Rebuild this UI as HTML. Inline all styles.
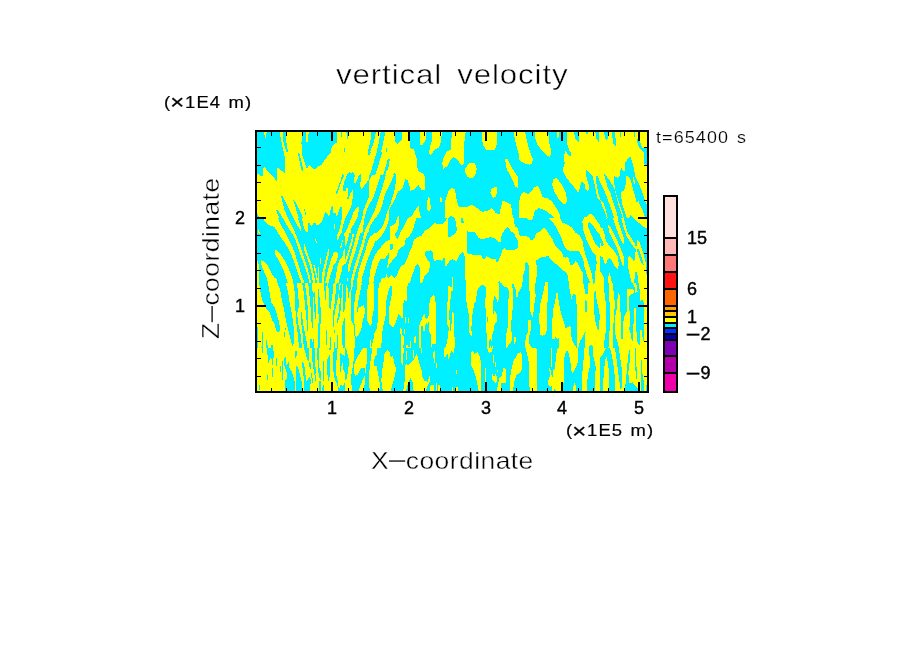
<!DOCTYPE html>
<html lang="en"><head><meta charset="utf-8"><title>vertical velocity</title>
<style>
html,body{margin:0;padding:0;background:#fff;}
body{width:904px;height:654px;overflow:hidden;position:relative;font-family:"Liberation Sans",sans-serif;color:#000;}
svg{position:absolute;left:0;top:0;display:block}
.t{position:absolute;white-space:pre;line-height:1;color:#000;}
.thin{-webkit-text-stroke:0.55px #fff;}
.big{font-size:26px;}
.sm{font-size:15px;}
.tick{font-size:15px;-webkit-text-stroke:0.2px #000;}
</style></head><body>

<svg width="904" height="654" viewBox="0 0 904 654" shape-rendering="crispEdges">
<rect x="0" y="0" width="904" height="654" fill="#fff"/>
<defs><clipPath id="pc"><rect x="256" y="131" width="392" height="261"/></clipPath></defs>
<g clip-path="url(#pc)">
<rect x="256" y="131" width="392" height="261" fill="#ffff00"/>
<svg x="255" y="130" width="132" height="88" viewBox="0 0 904 603" preserveAspectRatio="none">
<rect x="0" y="0" width="904" height="603" fill="#ffff00"/>
<polygon fill="#00f0ff" points="0,0 60,0 70,65 82,0 165,0 185,100 205,190 205,295 150,255 150,350 60,250 52,312 38,315 0,285"/>
<polygon fill="#00f0ff" points="188,0 212,0 216,90 226,155 214,150 196,90"/>
<polygon fill="#00f0ff" points="325,0 345,0 352,85 360,85 370,0 560,0 560,85 525,115 520,160 470,215 465,240 440,245 405,272 370,240 355,265 345,235 325,180 318,90"/>
<polygon fill="#00f0ff" points="293,158 305,165 332,270 328,287 316,268"/>
<polygon fill="#00f0ff" points="590,0 600,0 598,50 592,50"/>
<polygon fill="#00f0ff" points="625,0 640,0 640,60 630,65"/>
<polygon fill="#00f0ff" points="608,120 616,120 616,150 608,150"/>
<polygon fill="#00f0ff" points="800,0 830,0 815,80 782,170 772,150 790,80"/>
<polygon fill="#00f0ff" points="863,0 895,0 875,100 850,200 822,305 800,400 770,400 798,305 820,200 845,100"/>
<polygon fill="#00f0ff" points="904,110 877,231 849,305 840,330 880,330 904,250"/>
<polygon fill="#00f0ff" points="178,452 190,455 262,603 225,603 200,540"/>
<polygon fill="#00f0ff" points="145,548 160,552 190,603 165,603"/>
<polygon fill="#00f0ff" points="0,560 40,603 0,603"/>
<polygon fill="#00f0ff" points="262,480 275,485 330,603 300,603"/>
<polygon fill="#00f0ff" points="336,540 342,540 350,585 344,585"/>
<polygon fill="#00f0ff" points="520,520 530,520 535,570 560,575 585,530 595,535 590,603 470,603 490,565 515,570"/>
<polygon fill="#00f0ff" points="600,300 608,302 565,440 558,438"/>
</svg>
<svg x="321" y="152" width="66" height="66" viewBox="0 0 654 654" preserveAspectRatio="none">
<rect x="0" y="0" width="654" height="654" fill="#ffff00"/>
<polygon fill="#00f0ff" points="0,0 100,0 60,50 30,90 0,135"/>
<polygon fill="#00f0ff" points="465,0 495,0 485,25 470,25"/>
<polygon fill="#00f0ff" points="555,0 610,0 590,60 560,160 525,260 490,330 455,420 420,500 372,600 375,525 345,580 330,654 258,654 262,620 285,580 300,520 300,470 318,385 310,380 290,410 275,465 262,470 265,360 250,355 240,380 215,385 228,330 230,275 250,235 280,200 300,215 315,200 328,215 330,305 345,300 380,225 395,220 385,340 400,365 470,270 495,200 525,90"/>
<polygon fill="#00f0ff" points="654,215 620,300 590,380 560,450 500,560 430,654 510,654 570,560 600,500 630,420 654,330"/>
<polygon fill="#00f0ff" points="630,654 654,654 654,590"/>
<polygon fill="#00f0ff" points="212,220 222,222 160,420 150,418"/>
<polygon fill="#00f0ff" points="20,654 40,595 55,600 75,635 100,600 112,540 120,545 125,600 150,610 185,545 205,545 200,654"/>
</svg>
<svg x="387" y="130" width="132" height="88" viewBox="0 0 904 603" preserveAspectRatio="none">
<rect x="0" y="0" width="904" height="603" fill="#00f0ff"/>
<polygon fill="#ffff00" points="0,0 55,0 55,75 70,95 100,65 105,0 160,0 160,125 185,135 205,200 210,280 245,295 262,320 258,410 240,415 215,375 185,410 160,415 150,350 130,340 105,410 75,420 40,520 20,530 15,603 0,603"/>
<polygon fill="#00f0ff" points="0,205 18,200 12,250 0,285"/>
<polygon fill="#00f0ff" points="50,295 62,300 30,370 0,440 0,395 25,340"/>
<polygon fill="#ffff00" points="70,603 75,580 85,585 85,603"/>
<polygon fill="#ffff00" points="150,603 175,580 215,515 222,560 232,603"/>
<polygon fill="#ffff00" points="225,0 265,0 265,70 240,105 228,100"/>
<polygon fill="#ffff00" points="310,0 375,0 372,70 355,120 320,140 300,175 290,160 292,120 305,80"/>
<polygon fill="#ffff00" points="445,0 540,0 528,100 525,235 510,240 475,195 455,185 440,200 415,245 385,268 378,225 388,185 410,150 435,135 440,90"/>
<polygon fill="#ffff00" points="560,228 600,228 615,265 605,310 590,328 555,325 538,300 535,265"/>
<polygon fill="#ffff00" points="650,0 752,0 752,100 740,135 680,135 655,100"/>
<polygon fill="#ffff00" points="865,0 904,0 904,170 890,120 875,60"/>
<polygon fill="#ffff00" points="808,200 825,200 860,265 895,320 895,395 880,390 855,330 820,270"/>
<polygon fill="#ffff00" points="720,395 750,392 757,415 745,460 725,465 708,430"/>
<polygon fill="#ffff00" points="398,603 400,480 420,420 445,398 465,405 475,470 490,525 550,525 585,512 610,530 650,560 690,555 720,535 745,570 770,575 790,490 800,485 850,510 862,603"/>
<polygon fill="#00f0ff" points="420,603 440,585 460,603"/>
<polygon fill="#ffff00" points="282,460 295,465 300,540 290,555 275,550 275,490"/>
<polygon fill="#ffff00" points="365,460 375,470 375,495 365,490"/>
</svg>
<svg x="519" y="130" width="132" height="88" viewBox="0 0 904 603" preserveAspectRatio="none">
<rect x="0" y="0" width="904" height="603" fill="#00f0ff"/>
<polygon fill="#ffff00" points="0,0 40,0 55,80 75,150 95,200 90,230 70,238 30,225 0,205"/>
<polygon fill="#ffff00" points="105,0 200,0 205,80 218,130 215,190 195,175 150,130 125,100 110,50"/>
<polygon fill="#ffff00" points="255,0 275,0 272,50 262,55"/>
<polygon fill="#ffff00" points="330,0 880,0 880,160 470,160 470,400 445,365 430,350 415,400 405,430 385,400 350,360 320,320 300,275 312,230 310,170 320,140 335,170 350,185 360,165 345,140 330,100"/>
<polygon fill="#00f0ff" points="375,0 415,0 412,90 385,60"/>
<polygon fill="#00f0ff" points="460,0 476,0 470,30 462,30"/>
<polygon fill="#00f0ff" points="520,0 545,0 545,80 530,60"/>
<polygon fill="#00f0ff" points="580,0 612,0 605,75 590,60"/>
<polygon fill="#00f0ff" points="635,0 660,0 662,110 645,95 640,50"/>
<polygon fill="#00f0ff" points="690,0 700,0 698,50 692,50"/>
<polygon fill="#00f0ff" points="720,0 730,0 728,40 722,40"/>
<polygon fill="#00f0ff" points="785,0 795,0 793,50 787,50"/>
<polygon fill="#00f0ff" points="808,60 822,70 845,120 880,125 880,151 850,151 830,130 812,95"/>
<polygon fill="#ffff00" points="235,335 260,330 290,370 320,430 330,480 322,505 305,510 270,470 240,420 228,375"/>
<polygon fill="#ffff00" points="0,603 0,490 15,440 35,425 60,440 85,420 105,390 130,385 150,420 160,460 200,470 225,490 260,540 280,580 285,603"/>
<polygon fill="#00f0ff" points="95,603 108,555 135,535 165,545 200,565 245,603"/>
<polygon fill="#ffff00" points="440,603 470,585 495,570 520,603"/>
</svg>
<svg x="585" y="152" width="66" height="66" viewBox="0 0 654 654" preserveAspectRatio="none">
<rect x="0" y="0" width="654" height="654" fill="#ffff00"/>
<polygon fill="#00f0ff" points="580,0 620,0 620,145 600,140 580,100"/>
<polygon fill="#00f0ff" points="400,100 430,60 450,50 465,90 485,170 500,250 540,330 565,390 590,470 620,540 620,654 600,654 585,620 555,540 530,490 510,500 500,450 480,380 460,300 440,260 408,230 400,345 385,385 358,395 360,460 375,540 400,610 415,654 385,654 370,600 345,530 330,480 310,420 300,370 288,300 290,240 320,255 345,240 345,185 360,160 375,190 395,185"/>
<polygon fill="#ffff00" points="478,250 490,255 492,320 482,315"/>
<polygon fill="#00f0ff" points="440,654 445,620 470,640 475,654"/>
<polygon fill="#00f0ff" points="190,220 200,225 250,290 290,360 310,440 330,520 350,580 375,654 330,654 300,560 270,470 250,400 225,350 200,270"/>
<polygon fill="#00f0ff" points="105,230 125,240 160,320 185,370 215,440 250,540 275,610 290,654 225,654 210,590 185,510 150,470 130,400 110,300"/>
<polygon fill="#00f0ff" points="10,180 25,185 75,235 90,300 100,340 120,450 150,480 180,560 200,600 215,654 100,654 60,605 20,640 0,640 0,355 20,385 40,380 35,320 10,230"/>
</svg>
<svg x="255" y="218" width="90" height="65" viewBox="0 0 904 653" preserveAspectRatio="none">
<rect x="0" y="0" width="904" height="653" fill="#00f0ff"/>
<polygon fill="#ffff00" points="85,0 90,25 140,70 195,90 225,140 265,200 300,250 335,310 365,370 390,430 410,490 430,550 455,620 465,653 495,653 485,620 460,550 440,480 420,420 400,350 380,300 350,235 320,180 290,120 255,60 230,0"/>
<polygon fill="#ffff00" points="280,0 330,90 380,170 410,230 435,300 460,380 490,460 510,520 535,600 545,653 565,653 545,560 525,500 500,420 475,350 452,280 428,210 400,140 365,70 330,0"/>
<polygon fill="#ffff00" points="390,0 430,0 462,100 460,130 440,100 405,40"/>
<polygon fill="#ffff00" points="470,0 685,0 670,35 640,65 620,70 600,45 580,50 575,90 560,70 540,45 530,80 530,140 510,135 490,90 480,40"/>
<polygon fill="#ffff00" points="492,265 500,262 520,330 545,400 570,470 585,540 598,600 600,653 580,653 575,580 560,520 540,450 515,380 495,320"/>
<polygon fill="#ffff00" points="585,475 600,470 615,540 628,600 640,653 625,653 612,590 598,530"/>
<polygon fill="#ffff00" points="632,490 640,490 642,653 634,653"/>
<polygon fill="#ffff00" points="655,400 663,400 663,460 655,460"/>
<polygon fill="#ffff00" points="735,315 745,312 740,380 720,460 705,530 695,600 690,653 668,653 678,540 695,470 715,400"/>
<polygon fill="#ffff00" points="805,335 835,350 832,400 805,455 790,470 770,540 750,600 740,653 705,653 720,580 745,480 770,400 790,350"/>
<polygon fill="#ffff00" points="875,0 904,0 904,20 880,100 850,180 835,220 822,215 825,170 850,110 870,40"/>
<polygon fill="#ffff00" points="795,60 803,60 803,105 795,105"/>
<polygon fill="#ffff00" points="603,210 615,215 622,250 612,245"/>
<polygon fill="#ffff00" points="870,225 882,225 882,240 870,240"/>
<polygon fill="#ffff00" points="860,255 872,255 872,295 858,300"/>
<polygon fill="#ffff00" points="890,150 904,145 904,185 892,180"/>
<polygon fill="#ffff00" points="850,420 875,400 890,330 904,300 904,460 880,480 870,540 850,600 845,653 800,653 815,560 830,480"/>
<polygon fill="#ffff00" points="30,120 45,135 50,160 35,150"/>
<polygon fill="#ffff00" points="20,430 35,440 38,653 20,653"/>
<polygon fill="#ffff00" points="62,425 70,425 110,450 140,500 170,560 195,600 220,610 222,653 130,653 120,600 90,540 65,470"/>
<polygon fill="#ffff00" points="205,320 215,322 260,370 300,430 330,490 355,550 375,610 385,653 330,653 320,620 300,560 275,500 240,430 205,370"/>
</svg>
<svg x="345" y="218" width="90" height="65" viewBox="0 0 904 653" preserveAspectRatio="none">
<rect x="0" y="0" width="904" height="653" fill="#00f0ff"/>
<polygon fill="#ffff00" points="45,0 120,0 100,60 70,70 45,150 25,230 0,300 0,110 25,70"/>
<polygon fill="#ffff00" points="75,165 90,160 80,230 50,330 30,400 0,480 0,430 30,340 60,230"/>
<polygon fill="#ffff00" points="165,0 190,0 170,80 150,160 125,260 100,350 70,440 45,530 30,555 28,500 50,400 80,300 110,190 130,100"/>
<polygon fill="#ffff00" points="255,0 310,0 280,40 250,70 230,130 210,200 185,290 160,370 135,450 110,530 90,600 80,653 60,653 65,600 85,520 110,440 135,360 160,280 185,190 200,120 225,70"/>
<polygon fill="#ffff00" points="385,0 440,0 440,50 400,130 350,200 300,240 285,290 260,330 235,400 210,470 190,540 170,600 165,653 120,653 130,570 150,490 180,400 205,330 225,250 250,190 300,150 340,100 380,40"/>
<polygon fill="#ffff00" points="904,50 850,100 800,130 770,180 740,185 690,220 670,300 650,340 630,400 600,460 560,490 540,530 520,580 495,610 490,590 470,575 440,600 420,590 415,540 405,600 380,605 365,610 355,653 904,653"/>
<polygon fill="#00f0ff" points="650,653 680,560 710,480 730,465 750,490 750,653"/>
<polygon fill="#00f0ff" points="810,335 860,325 885,345 890,430 904,440 904,653 775,653 800,580 840,540 860,460 830,420 800,370"/>
<polygon fill="#ffff00" points="635,0 720,0 700,50 680,130 640,190 610,210 600,270 560,300 530,330 525,380 480,420 445,470 428,510 425,480 440,400 440,350 400,410 355,415 330,470 310,540 290,610 285,653 240,653 245,600 255,520 275,440 300,370 330,330 370,280 410,235 450,215 455,80 500,60 520,0 545,0 540,60 520,130 500,170 525,210 545,180 560,120 600,70"/>
<polygon fill="#00f0ff" points="455,265 480,260 478,315 455,320"/>
<polygon fill="#ffff00" points="20,600 30,600 30,635 20,635"/>
</svg>
<svg x="435" y="218" width="90" height="65" viewBox="0 0 904 653" preserveAspectRatio="none">
<rect x="0" y="0" width="904" height="653" fill="#ffff00"/>
<polygon fill="#00f0ff" points="0,0 120,0 100,40 60,65 30,65 0,50"/>
<polygon fill="#00f0ff" points="130,0 195,0 215,60 218,130 205,155 150,190 132,195"/>
<polygon fill="#00f0ff" points="262,0 275,0 290,40 285,55 265,45"/>
<polygon fill="#00f0ff" points="322,130 350,145 400,145 440,200 460,215 510,205 560,190 600,205 640,245 660,240 670,165 700,120 730,92 770,140 795,150 805,185 830,220 832,300 800,318 715,318 700,300 680,320 660,375 635,440 615,445 608,415 580,415 540,395 515,385 495,420 485,415 465,375 395,370 330,360 322,340"/>
<polygon fill="#00f0ff" points="795,0 904,0 904,180 880,185 850,180 840,130 825,95 800,85"/>
<polygon fill="#00f0ff" points="0,430 35,420 65,430 95,395 100,480 115,480 150,430 180,412 210,440 240,380 275,345 290,360 300,400 298,560 305,620 312,653 0,653"/>
<polygon fill="#ffff00" points="172,595 180,595 180,653 172,653"/>
<polygon fill="#00f0ff" points="895,535 904,530 904,653 878,653 885,590"/>
<polygon fill="#00f0ff" points="635,640 650,632 652,653 632,653"/>
</svg>
<svg x="525" y="218" width="90" height="65" viewBox="0 0 904 653" preserveAspectRatio="none">
<rect x="0" y="0" width="904" height="653" fill="#00f0ff"/>
<polygon fill="#ffff00" points="20,0 80,0 75,15 40,20"/>
<polygon fill="#ffff00" points="0,180 35,190 55,218 90,215 110,155 150,135 190,100 215,120 240,160 275,210 300,270 330,305 370,345 385,390 405,400 425,390 440,405 452,470 480,470 510,432 530,460 555,510 580,545 585,653 440,653 430,580 410,545 370,520 340,480 300,455 270,430 235,382 190,392 145,400 112,430 120,520 112,653 40,653 45,490 20,445 0,450"/>
<polygon fill="#ffff00" points="205,645 230,645 230,653 205,653"/>
<polygon fill="#ffff00" points="240,0 350,0 375,45 420,65 470,95 510,150 550,175 575,220 590,300 610,380 640,470 670,560 685,653 655,653 620,570 600,500 585,420 560,370 545,335 455,330 415,315 390,270 370,210 340,150 310,85 280,45"/>
<polygon fill="#ffff00" points="575,30 600,0 705,0 730,45 790,110 805,180 830,250 880,320 904,350 904,450 880,420 850,400 830,425 810,470 795,450 785,385 765,382 755,420 755,510 790,560 795,653 700,653 705,560 720,450 715,385 680,340 640,270 610,200 585,120"/>
<polygon fill="#00f0ff" points="635,50 650,40 680,70 720,130 760,180 785,240 795,285 745,300 715,270 680,200 650,130 632,80"/>
<polygon fill="#ffff00" points="815,0 825,0 822,20 815,20"/>
<polygon fill="#ffff00" points="885,0 904,0 904,50 890,40"/>
<polygon fill="#ffff00" points="835,60 850,70 880,130 904,150 904,260 880,230 850,180 835,120"/>
<polygon fill="#ffff00" points="830,653 835,590 848,555 860,580 870,653"/>
</svg>
<svg x="600" y="218" width="90" height="65" viewBox="0 0 904 653" preserveAspectRatio="none">
<rect x="0" y="0" width="904" height="653" fill="#00f0ff"/>
<polygon fill="#ffff00" points="340,0 470,0 470,100 440,90 410,60 370,35"/>
<polygon fill="#ffff00" points="0,90 25,100 45,160 60,230 100,290 140,330 180,390 190,470 175,510 150,490 120,430 95,400 75,420 60,470 40,450 30,400 0,380"/>
<polygon fill="#00f0ff" points="0,185 20,215 40,270 20,290 0,240"/>
<polygon fill="#ffff00" points="60,0 72,0 70,15 62,15"/>
<polygon fill="#ffff00" points="80,60 100,80 135,150 165,210 200,290 235,370 240,440 235,500 215,440 190,360 160,280 120,200 90,140"/>
<polygon fill="#ffff00" points="130,0 175,0 190,50 215,130 240,200 240,270 215,230 185,160 160,90 140,40"/>
<polygon fill="#ffff00" points="215,0 240,0 255,70 280,150 320,210 355,270 370,330 345,300 310,250 270,190 245,120 225,50"/>
<polygon fill="#ffff00" points="375,220 395,240 420,310 445,390 465,480 470,653 385,653 375,560 358,530 350,600 340,653 320,653 300,580 285,500 280,420 292,375 320,400 345,450 350,380 365,300"/>
<polygon fill="#00f0ff" points="378,300 395,330 420,400 440,470 420,460 395,400 375,340"/>
<polygon fill="#ffff00" points="0,540 20,560 40,600 45,653 0,653"/>
<polygon fill="#ffff00" points="95,550 105,580 120,653 85,653 80,600"/>
</svg>
<svg x="255" y="283" width="90" height="65" viewBox="0 0 904 653" preserveAspectRatio="none">
<rect x="0" y="0" width="904" height="653" fill="#ffff00"/>
<polygon fill="#00f0ff" points="40,0 130,0 150,120 165,200 195,240 215,300 235,370 250,440 250,485 225,492 210,480 200,420 170,370 150,300 110,250 70,170 55,90"/>
<polygon fill="#00f0ff" points="225,0 310,0 330,80 345,180 360,260 375,340 385,420 395,500 395,590 380,640 360,580 340,500 320,420 305,340 290,260 270,170 250,60"/>
<polygon fill="#00f0ff" points="385,0 420,0 435,100 440,240 425,300 430,400 450,470 465,560 470,653 445,653 440,620 430,520 415,400 405,250 400,100"/>
<polygon fill="#00f0ff" points="462,290 472,290 480,400 500,500 520,600 525,653 490,653 480,520 465,400"/>
<polygon fill="#00f0ff" points="475,0 500,0 515,100 525,200 535,300 535,400 532,480 525,480 520,400 510,300 500,200 490,100"/>
<polygon fill="#00f0ff" points="535,0 570,0 580,100 585,250 585,400 580,450 572,450 565,350 555,200 545,100"/>
<polygon fill="#00f0ff" points="585,100 600,90 610,250 612,360 602,360 595,250"/>
<polygon fill="#00f0ff" points="630,60 640,60 660,260 665,340 650,500 650,653 630,653 635,500 640,340 635,260"/>
<polygon fill="#00f0ff" points="690,0 720,0 715,100 710,170 703,170 700,100"/>
<polygon fill="#00f0ff" points="735,0 790,0 780,100 765,200 760,260 745,250 745,150 740,80"/>
<polygon fill="#00f0ff" points="820,0 850,0 840,100 825,200 800,300 795,400 790,440 782,440 785,300 800,200 810,100"/>
<polygon fill="#00f0ff" points="850,30 870,0 880,0 870,120 865,250 850,340 830,400 820,390 840,300 850,200 848,100"/>
<polygon fill="#00f0ff" points="880,0 904,0 904,250 890,300 880,200 885,100"/>
<polygon fill="#00f0ff" points="880,400 904,340 904,653 880,653 875,500"/>
<polygon fill="#00f0ff" points="718,470 724,470 724,620 718,620"/>
<polygon fill="#00f0ff" points="795,475 805,475 805,500 795,500"/>
<polygon fill="#00f0ff" points="755,540 762,540 762,653 755,653"/>
<polygon fill="#00f0ff" points="790,590 800,590 800,653 790,653"/>
<polygon fill="#00f0ff" points="825,520 835,520 835,653 825,653"/>
<polygon fill="#00f0ff" points="555,560 565,560 580,600 585,565 592,565 590,653 555,653"/>
<polygon fill="#00f0ff" points="300,455 308,455 300,540 292,540"/>
<polygon fill="#00f0ff" points="20,440 30,440 30,653 20,653"/>
<polygon fill="#00f0ff" points="70,490 78,490 78,653 65,653"/>
<polygon fill="#00f0ff" points="110,570 118,575 130,653 115,653"/>
<polygon fill="#00f0ff" points="165,625 180,620 178,653 160,653"/>
</svg>
<svg x="345" y="283" width="90" height="65" viewBox="0 0 904 653" preserveAspectRatio="none">
<rect x="0" y="0" width="904" height="653" fill="#00f0ff"/>
<polygon fill="#ffff00" points="0,190 10,185 12,20 22,20 32,100 35,150 42,150 45,90 60,60 65,0 80,0 75,50 62,80 60,370 80,410 95,430 95,520 100,653 0,653"/>
<polygon fill="#ffff00" points="125,0 170,0 160,50 145,130 130,200 125,250 115,400 100,430 92,390 92,240 100,130 115,80"/>
<polygon fill="#ffff00" points="130,250 150,240 185,222 200,260 195,320 175,400 165,460 140,520 115,540 100,530 100,430 115,400"/>
<polygon fill="#ffff00" points="240,0 290,0 290,260 275,340 268,410 255,430 240,410 222,380 218,250 225,70"/>
<polygon fill="#ffff00" points="345,0 630,0 625,80 620,180 610,190 600,165 585,210 580,350 570,360 550,320 535,315 520,360 500,420 485,450 470,440 440,400 440,270 470,120 470,35 455,30 440,70 420,150 410,210 410,320 385,430 372,520 365,630 360,653 265,653 285,570 295,510 320,460 330,370 335,60"/>
<polygon fill="#ffff00" points="250,575 262,575 262,653 250,653"/>
<polygon fill="#ffff00" points="855,150 885,120 904,130 904,610 875,615 870,640 865,653 860,510 845,490 845,240"/>
<polygon fill="#ffff00" points="790,315 800,312 805,355 825,360 845,320 845,385 830,410 815,405 805,440 800,480 785,480 782,435 765,435 762,653 745,653 745,430 765,380 780,340"/>
<polygon fill="#ffff00" points="600,350 610,345 612,400 600,410"/>
<polygon fill="#ffff00" points="630,350 642,350 640,400 628,410"/>
<polygon fill="#ffff00" points="555,455 570,460 572,520 590,540 590,600 585,653 562,653 560,560"/>
<polygon fill="#ffff00" points="590,460 602,460 602,510 590,510"/>
<polygon fill="#ffff00" points="695,540 710,530 712,610 695,600"/>
<polygon fill="#ffff00" points="650,585 662,585 660,653 615,653 618,625 630,620 635,640 648,640"/>
</svg>
<svg x="435" y="283" width="90" height="65" viewBox="0 0 904 653" preserveAspectRatio="none">
<rect x="0" y="0" width="904" height="653" fill="#00f0ff"/>
<polygon fill="#ffff00" points="0,190 10,190 10,610 0,610"/>
<polygon fill="#ffff00" points="130,30 150,35 165,45 170,0 182,0 180,80 165,80 158,150 148,210 145,290 140,350 150,380 155,480 160,480 165,430 172,295 188,300 190,530 200,545 200,653 100,653 120,600 135,500 138,440 122,420 122,215 132,150"/>
<polygon fill="#ffff00" points="310,0 640,0 640,160 630,200 620,170 610,140 595,125 590,160 580,210 580,330 598,285 615,300 625,330 622,380 598,420 590,480 578,500 575,580 560,585 550,500 545,653 525,653 522,600 515,450 512,260 500,240 505,200 512,50 495,25 470,22 440,40 425,80 410,180 395,210 380,290 370,370 365,470 372,530 360,525 342,490 340,320 318,200 310,140"/>
<polygon fill="#00f0ff" points="522,345 532,345 532,390 522,390"/>
<polygon fill="#ffff00" points="555,635 565,635 565,653 555,653"/>
<polygon fill="#ffff00" points="572,635 582,635 582,653 572,653"/>
<polygon fill="#ffff00" points="665,0 875,0 870,40 850,80 835,90 835,140 815,140 815,70 800,40 790,15 775,15 782,90 782,250 770,320 765,490 775,500 775,580 740,620 720,653 712,653 715,520 730,440 735,200 745,80 730,50 715,40 700,45 680,20"/>
<polygon fill="#ffff00" points="795,545 812,545 812,580 805,610 795,610"/>
</svg>
<svg x="525" y="283" width="90" height="65" viewBox="0 0 904 653" preserveAspectRatio="none">
<rect x="0" y="0" width="904" height="653" fill="#00f0ff"/>
<polygon fill="#ffff00" points="40,0 100,0 100,100 110,120 105,140 95,210 85,300 75,340 62,320 50,270 48,90 35,40"/>
<polygon fill="#ffff00" points="32,372 58,372 60,460 45,520 42,610 60,640 80,653 0,653 0,600 10,540 25,500 30,450"/>
<polygon fill="#ffff00" points="200,0 230,0 228,170 220,250 222,460 205,515 180,530 155,520 150,470 142,360 150,230 165,160 185,90 195,40"/>
<polygon fill="#ffff00" points="315,100 330,102 340,200 360,300 385,380 400,420 410,460 445,432 460,450 462,520 480,590 510,640 512,653 342,653 340,555 325,560 310,540 295,560 272,560 272,400 285,260 300,200"/>
<polygon fill="#ffff00" points="445,0 585,0 600,70 605,115 632,115 632,0 680,0 688,8 695,0 795,0 800,170 815,260 822,300 810,430 800,580 795,653 690,653 670,625 655,625 640,653 605,653 608,490 590,520 550,590 535,653 525,653 522,290 512,120 490,110 475,130 470,160 460,150 455,80 445,60"/>
<polygon fill="#00f0ff" points="600,175 615,175 625,200 622,290 605,290"/>
<polygon fill="#00f0ff" points="690,100 710,80 720,180 740,260 752,330 740,470 730,470 710,400 695,300"/>
<polygon fill="#ffff00" points="845,0 885,0 888,70 904,170 904,340 890,345 890,480 904,480 904,640 885,625 885,653 832,653 835,580 850,440 852,200 845,100"/>
</svg>
<svg x="600" y="283" width="90" height="65" viewBox="0 0 904 653" preserveAspectRatio="none">
<rect x="0" y="0" width="904" height="653" fill="#ffff00"/>
<polygon fill="#00f0ff" points="40,0 90,0 90,170 100,200 100,420 90,560 85,653 40,653 40,600 55,520 62,300 55,180 42,70"/>
<polygon fill="#00f0ff" points="130,0 180,0 180,100 170,250 150,350 148,500 165,560 180,600 190,653 135,653 130,600 130,480 140,340 150,200 135,80"/>
<polygon fill="#00f0ff" points="180,0 275,0 275,100 268,290 240,350 232,420 232,560 215,560 210,400 200,140 190,100 182,100"/>
<polygon fill="#00f0ff" points="275,0 330,0 340,30 355,60 350,95 340,100 335,60 290,60 275,65"/>
<polygon fill="#00f0ff" points="290,130 335,100 400,90 405,180 430,170 440,200 445,240 445,600 430,570 420,470 405,470 400,620 380,610 370,560 362,400 360,250 340,250 335,480 330,580 318,580 310,510 295,470 300,360 300,300 292,260"/>
<polygon fill="#00f0ff" points="365,0 392,0 400,90 380,90 370,50"/>
</svg>
<svg x="255" y="348" width="90" height="65" viewBox="0 0 904 653" preserveAspectRatio="none">
<rect x="0" y="0" width="904" height="653" fill="#ffff00"/>
<polygon fill="#00f0ff" points="120,0 185,0 188,80 180,170 170,170 165,100 150,100 140,160 130,150 125,60"/>
<polygon fill="#00f0ff" points="125,270 132,270 132,320 125,320"/>
<polygon fill="#00f0ff" points="172,200 180,200 180,290 172,290"/>
<polygon fill="#00f0ff" points="210,100 220,100 220,180 210,180"/>
<polygon fill="#00f0ff" points="255,180 262,180 265,300 258,300"/>
<polygon fill="#00f0ff" points="272,130 280,130 285,320 275,320"/>
<polygon fill="#00f0ff" points="295,100 310,90 315,170 340,140 345,200 370,240 385,280 400,340 405,432 300,432 300,330 310,310 320,320 322,250 300,200 292,150"/>
<polygon fill="#00f0ff" points="405,30 420,30 420,80 405,100"/>
<polygon fill="#00f0ff" points="410,180 430,190 450,260 470,340 480,432 410,432"/>
<polygon fill="#00f0ff" points="470,140 490,150 500,200 510,300 520,340 540,300 555,290 560,340 550,432 492,432 490,300"/>
<polygon fill="#00f0ff" points="490,0 540,0 545,130 530,130 510,60"/>
<polygon fill="#00f0ff" points="545,140 560,150 560,220 548,200"/>
<polygon fill="#00f0ff" points="570,0 600,0 600,150 610,200 610,260 600,250 580,180 575,100"/>
<polygon fill="#00f0ff" points="625,0 640,0 642,180 660,240 660,320 645,300 630,200"/>
<polygon fill="#00f0ff" points="565,250 575,250 580,350 570,350"/>
<polygon fill="#00f0ff" points="595,200 605,200 610,330 600,330"/>
<polygon fill="#00f0ff" points="640,330 660,330 660,432 640,432"/>
<polygon fill="#00f0ff" points="685,130 695,130 695,330 685,330"/>
<polygon fill="#00f0ff" points="680,370 695,370 690,432 675,432"/>
<polygon fill="#00f0ff" points="720,120 735,100 750,70 755,200 745,340 735,330 725,250"/>
<polygon fill="#00f0ff" points="790,0 830,0 820,100 815,200 820,300 835,340 830,380 810,330 790,280 785,150"/>
<polygon fill="#00f0ff" points="830,380 850,400 860,370 885,380 904,340 904,432 835,432"/>
<polygon fill="#00f0ff" points="850,50 904,80 904,250 890,230 880,150 870,170 860,250 850,200"/>
<polygon fill="#00f0ff" points="745,0 765,0 760,20 748,20"/>
<polygon fill="#00f0ff" points="70,0 78,0 78,50 70,50"/>
<polygon fill="#00f0ff" points="40,370 48,370 48,420 40,420"/>
</svg>
<svg x="345" y="348" width="90" height="65" viewBox="0 0 904 653" preserveAspectRatio="none">
<rect x="0" y="0" width="904" height="653" fill="#00f0ff"/>
<polygon fill="#ffff00" points="10,0 95,0 90,100 75,200 60,300 70,432 0,432 0,330 20,300 35,200 40,120 25,60"/>
<polygon fill="#ffff00" points="95,160 120,100 150,50 180,0 225,0 220,80 215,180 205,260 195,200 170,195 150,220 130,270 100,280 90,230"/>
<polygon fill="#ffff00" points="185,300 200,280 205,340 190,400 185,432 140,432 150,380 170,340"/>
<polygon fill="#ffff00" points="245,230 260,100 275,0 320,0 318,70 300,90 290,150 300,200 310,170 320,180 330,250 345,330 350,380 345,432 250,432 240,350"/>
<polygon fill="#ffff00" points="400,40 430,20 450,40 460,100 480,80 495,150 510,200 505,270 480,350 460,432 380,432 365,330 370,250 385,150"/>
<polygon fill="#ffff00" points="560,0 590,0 585,100 575,200 560,100"/>
<polygon fill="#ffff00" points="600,200 610,160 640,170 660,150 690,120 720,60 735,100 750,170 770,230 780,300 800,330 830,340 850,280 850,340 820,400 815,432 690,432 680,350 660,300 640,330 620,400 610,432 585,432 600,330"/>
<polygon fill="#ffff00" points="760,0 770,0 770,50 760,50"/>
<polygon fill="#ffff00" points="685,20 695,20 695,100 685,100"/>
<polygon fill="#ffff00" points="610,30 625,30 620,120 610,120"/>
<polygon fill="#ffff00" points="885,40 904,30 904,160 890,120"/>
<polygon fill="#ffff00" points="855,380 890,370 895,432 850,432"/>
</svg>
<svg x="435" y="348" width="90" height="65" viewBox="0 0 904 653" preserveAspectRatio="none">
<rect x="0" y="0" width="904" height="653" fill="#00f0ff"/>
<polygon fill="#ffff00" points="95,0 190,0 188,50 165,30 150,70 140,110 130,100 125,50 100,100 90,90"/>
<polygon fill="#ffff00" points="10,150 20,150 20,200 10,200"/>
<polygon fill="#ffff00" points="210,220 220,220 220,260 210,260"/>
<polygon fill="#ffff00" points="10,355 20,355 22,432 10,432"/>
<polygon fill="#ffff00" points="30,370 50,375 50,432 35,432"/>
<polygon fill="#ffff00" points="170,390 182,390 182,432 170,432"/>
<polygon fill="#ffff00" points="215,390 232,390 232,432 215,432"/>
<polygon fill="#ffff00" points="365,40 380,30 400,60 425,40 445,70 460,130 462,432 438,432 420,330 395,240 365,180 360,100"/>
<polygon fill="#ffff00" points="498,200 512,200 512,340 498,380"/>
<polygon fill="#ffff00" points="525,0 580,0 570,40 545,50 530,30"/>
<polygon fill="#ffff00" points="582,70 592,70 592,150 582,150"/>
<polygon fill="#ffff00" points="602,140 612,140 612,190 602,190"/>
<polygon fill="#ffff00" points="622,220 632,220 632,245 622,245"/>
<polygon fill="#ffff00" points="572,260 585,265 590,300 605,260 620,280 618,340 605,360 590,330 575,320"/>
<polygon fill="#ffff00" points="690,190 712,220 712,350 665,350 660,432 622,432 630,380 645,300 670,280"/>
<polygon fill="#ffff00" points="830,60 860,40 875,80 870,220 850,250 820,270 800,320 790,380 782,432 752,432 755,290 770,200 790,130"/>
</svg>
<svg x="525" y="348" width="90" height="65" viewBox="0 0 904 653" preserveAspectRatio="none">
<rect x="0" y="0" width="904" height="653" fill="#00f0ff"/>
<polygon fill="#ffff00" points="5,0 115,0 122,100 120,432 48,432 40,300 35,120 15,40"/>
<polygon fill="#ffff00" points="262,0 275,0 272,100 268,200 262,150"/>
<polygon fill="#ffff00" points="330,0 530,0 535,80 525,170 500,210 480,260 465,230 455,130 440,50 420,20 400,60 392,150 388,340 380,432 320,432 300,410 285,432 270,432 272,380 250,390 232,360 235,320 248,290 245,200 255,210 262,270 278,290 285,220 300,210 305,150 315,60"/>
<polygon fill="#ffff00" points="495,340 502,360 512,380 512,432 482,432 485,400"/>
<polygon fill="#ffff00" points="595,0 640,0 650,100 648,200 632,260 625,350 622,432 572,432 575,300 580,180 590,100"/>
<polygon fill="#ffff00" points="680,0 770,0 762,100 755,250 752,432 700,432 705,300 710,190 700,130 690,110"/>
<polygon fill="#ffff00" points="805,110 820,90 835,130 845,250 848,432 782,432 790,300 800,200"/>
<polygon fill="#ffff00" points="850,0 904,0 904,250 895,200 880,100 865,40"/>
</svg>
<svg x="600" y="348" width="90" height="65" viewBox="0 0 904 653" preserveAspectRatio="none">
<rect x="0" y="0" width="904" height="653" fill="#ffff00"/>
<polygon fill="#00f0ff" points="0,100 30,60 60,0 100,0 120,80 140,200 150,300 150,432 90,432 90,250 80,150 65,90 50,120 35,300 30,432 0,432"/>
<polygon fill="#00f0ff" points="150,0 190,0 200,80 215,180 225,300 222,400 205,410 195,330 180,230 165,100"/>
<polygon fill="#00f0ff" points="290,20 300,20 305,90 290,190 285,250 290,340 300,360 325,340 345,370 380,400 380,432 250,432 255,380 265,280 275,160 285,80"/>
<polygon fill="#00f0ff" points="352,0 360,0 365,170 375,300 372,330 360,280 352,150"/>
<polygon fill="#00f0ff" points="410,120 420,120 425,250 440,340 445,432 415,432 412,300"/>
<polygon fill="#00f0ff" points="460,380 470,370 470,432 458,432"/>
</svg>
<svg x="330" y="175" width="80" height="58" viewBox="0 0 902 654" preserveAspectRatio="none">
<rect x="0" y="0" width="902" height="654" fill="#00f0ff"/>
<polygon fill="#ffff00" points="0,0 135,0 125,50 105,100 90,140 70,190 70,220 80,215 100,160 120,100 140,45 160,0 190,0 175,40 160,70 150,130 150,180 175,175 185,150 205,150 200,230 195,275 210,270 225,215 255,170 262,185 255,260 245,330 225,390 200,440 170,500 150,560 130,654 90,654 110,600 125,540 135,480 135,365 115,365 90,440 75,470 65,430 40,430 30,350 15,360 0,410"/>
<polygon fill="#ffff00" points="45,555 58,555 58,605 45,605"/>
<polygon fill="#ffff00" points="170,654 195,600 220,540 245,480 265,420 290,380 320,345 325,400 310,470 285,530 265,560 245,590 230,654"/>
<polygon fill="#ffff00" points="300,654 320,600 345,540 365,480 370,420 385,380 400,340 420,290 440,250 440,140 445,60 475,0 565,0 555,60 535,120 515,170 500,220 480,270 455,310 430,360 410,410 395,460 385,510 375,580 365,654"/>
<polygon fill="#ffff00" points="350,0 445,0 440,50 405,95 370,140 355,155 340,130 342,100"/>
<polygon fill="#ffff00" points="280,0 325,0 310,45 290,85 272,85 272,55"/>
<polygon fill="#ffff00" points="630,0 720,0 700,50 670,110 640,170 620,210 605,270 590,330 570,390 540,450 510,490 480,530 450,580 430,654 385,654 400,610 420,570 445,520 470,470 495,420 515,370 535,310 555,250 575,190 595,120 615,60"/>
<polygon fill="#ffff00" points="745,0 902,0 902,150 890,100 875,55 850,50 835,90 820,150 790,175 765,190 750,230 720,300 680,360 672,375 665,440 660,520 640,580 615,630 600,654 525,654 560,620 590,580 615,520 635,450 655,390 680,330 700,260 720,200 735,130 745,60"/>
<polygon fill="#ffff00" points="680,654 680,580 720,560 740,540 760,470 775,455 778,560 760,620 745,654"/>
<polygon fill="#ffff00" points="790,654 820,600 850,540 880,490 902,470 902,654"/>
</svg>
<svg x="310" y="155" width="120" height="98" viewBox="0 0 801 654" preserveAspectRatio="none">
<polygon fill="#00f0ff" points="522,28 534,30 520,80 500,135 488,135 505,80"/>
</svg>
</g>
<g fill="#000"><rect x="271" y="131" width="1" height="5"/><rect x="271" y="388" width="1" height="4"/><rect x="286" y="131" width="1" height="5"/><rect x="286" y="388" width="1" height="4"/><rect x="302" y="131" width="1" height="5"/><rect x="302" y="388" width="1" height="4"/><rect x="317" y="131" width="1" height="5"/><rect x="317" y="388" width="1" height="4"/><rect x="331" y="131" width="2" height="10"/><rect x="331" y="382" width="2" height="10"/><rect x="348" y="131" width="1" height="5"/><rect x="348" y="388" width="1" height="4"/><rect x="363" y="131" width="1" height="5"/><rect x="363" y="388" width="1" height="4"/><rect x="378" y="131" width="1" height="5"/><rect x="378" y="388" width="1" height="4"/><rect x="394" y="131" width="1" height="5"/><rect x="394" y="388" width="1" height="4"/><rect x="408" y="131" width="2" height="10"/><rect x="408" y="382" width="2" height="10"/><rect x="424" y="131" width="1" height="5"/><rect x="424" y="388" width="1" height="4"/><rect x="440" y="131" width="1" height="5"/><rect x="440" y="388" width="1" height="4"/><rect x="455" y="131" width="1" height="5"/><rect x="455" y="388" width="1" height="4"/><rect x="470" y="131" width="1" height="5"/><rect x="470" y="388" width="1" height="4"/><rect x="485" y="131" width="2" height="10"/><rect x="485" y="382" width="2" height="10"/><rect x="501" y="131" width="1" height="5"/><rect x="501" y="388" width="1" height="4"/><rect x="516" y="131" width="1" height="5"/><rect x="516" y="388" width="1" height="4"/><rect x="532" y="131" width="1" height="5"/><rect x="532" y="388" width="1" height="4"/><rect x="547" y="131" width="1" height="5"/><rect x="547" y="388" width="1" height="4"/><rect x="561" y="131" width="2" height="10"/><rect x="561" y="382" width="2" height="10"/><rect x="578" y="131" width="1" height="5"/><rect x="578" y="388" width="1" height="4"/><rect x="593" y="131" width="1" height="5"/><rect x="593" y="388" width="1" height="4"/><rect x="608" y="131" width="1" height="5"/><rect x="608" y="388" width="1" height="4"/><rect x="624" y="131" width="1" height="5"/><rect x="624" y="388" width="1" height="4"/><rect x="638" y="131" width="2" height="10"/><rect x="638" y="382" width="2" height="10"/><rect x="256" y="376" width="5" height="1"/><rect x="644" y="376" width="4" height="1"/><rect x="256" y="358" width="5" height="1"/><rect x="644" y="358" width="4" height="1"/><rect x="256" y="341" width="5" height="1"/><rect x="644" y="341" width="4" height="1"/><rect x="256" y="323" width="5" height="1"/><rect x="644" y="323" width="4" height="1"/><rect x="256" y="305" width="10" height="2"/><rect x="638" y="305" width="10" height="2"/><rect x="256" y="288" width="5" height="1"/><rect x="644" y="288" width="4" height="1"/><rect x="256" y="270" width="5" height="1"/><rect x="644" y="270" width="4" height="1"/><rect x="256" y="253" width="5" height="1"/><rect x="644" y="253" width="4" height="1"/><rect x="256" y="235" width="5" height="1"/><rect x="644" y="235" width="4" height="1"/><rect x="256" y="217" width="10" height="2"/><rect x="638" y="217" width="10" height="2"/><rect x="256" y="200" width="5" height="1"/><rect x="644" y="200" width="4" height="1"/><rect x="256" y="182" width="5" height="1"/><rect x="644" y="182" width="4" height="1"/><rect x="256" y="165" width="5" height="1"/><rect x="644" y="165" width="4" height="1"/><rect x="256" y="147" width="5" height="1"/><rect x="644" y="147" width="4" height="1"/></g>
<rect x="256" y="131" width="392" height="261" fill="none" stroke="#000" stroke-width="2"/>
<rect x="664" y="195" width="13" height="43" fill="#ffe0dd"/>
<rect x="664" y="238" width="13" height="17" fill="#ffb8b8"/>
<rect x="664" y="255" width="13" height="17" fill="#ff7878"/>
<rect x="664" y="272" width="13" height="17" fill="#ff1414"/>
<rect x="664" y="289" width="13" height="17" fill="#ff6600"/>
<rect x="664" y="306" width="13" height="5" fill="#ffa000"/>
<rect x="664" y="311" width="13" height="6" fill="#ffc800"/>
<rect x="664" y="317" width="13" height="6" fill="#ffff00"/>
<rect x="664" y="323" width="13" height="5" fill="#00f0ff"/>
<rect x="664" y="328" width="13" height="6" fill="#0033ff"/>
<rect x="664" y="334" width="13" height="6" fill="#0000b2"/>
<rect x="664" y="340" width="13" height="16" fill="#7d00b3"/>
<rect x="664" y="356" width="13" height="17" fill="#b400aa"/>
<rect x="664" y="373" width="13" height="19" fill="#f000aa"/>
<rect x="664" y="237" width="13" height="2" fill="#000"/>
<rect x="664" y="254" width="13" height="2" fill="#000"/>
<rect x="664" y="271" width="13" height="2" fill="#000"/>
<rect x="664" y="288" width="13" height="2" fill="#000"/>
<rect x="664" y="305" width="13" height="2" fill="#000"/>
<rect x="664" y="310" width="13" height="2" fill="#000"/>
<rect x="664" y="316" width="13" height="2" fill="#000"/>
<rect x="664" y="322" width="13" height="2" fill="#000"/>
<rect x="664" y="327" width="13" height="2" fill="#000"/>
<rect x="664" y="333" width="13" height="2" fill="#000"/>
<rect x="664" y="339" width="13" height="2" fill="#000"/>
<rect x="664" y="355" width="13" height="2" fill="#000"/>
<rect x="664" y="372" width="13" height="2" fill="#000"/>
<rect x="664" y="196" width="13" height="196" fill="none" stroke="#000" stroke-width="2"/>
</svg>
</g>
<g fill="#000"><rect x="271" y="131" width="1" height="5"/><rect x="271" y="388" width="1" height="4"/><rect x="286" y="131" width="1" height="5"/><rect x="286" y="388" width="1" height="4"/><rect x="302" y="131" width="1" height="5"/><rect x="302" y="388" width="1" height="4"/><rect x="317" y="131" width="1" height="5"/><rect x="317" y="388" width="1" height="4"/><rect x="331" y="131" width="2" height="10"/><rect x="331" y="382" width="2" height="10"/><rect x="348" y="131" width="1" height="5"/><rect x="348" y="388" width="1" height="4"/><rect x="363" y="131" width="1" height="5"/><rect x="363" y="388" width="1" height="4"/><rect x="378" y="131" width="1" height="5"/><rect x="378" y="388" width="1" height="4"/><rect x="394" y="131" width="1" height="5"/><rect x="394" y="388" width="1" height="4"/><rect x="408" y="131" width="2" height="10"/><rect x="408" y="382" width="2" height="10"/><rect x="424" y="131" width="1" height="5"/><rect x="424" y="388" width="1" height="4"/><rect x="440" y="131" width="1" height="5"/><rect x="440" y="388" width="1" height="4"/><rect x="455" y="131" width="1" height="5"/><rect x="455" y="388" width="1" height="4"/><rect x="470" y="131" width="1" height="5"/><rect x="470" y="388" width="1" height="4"/><rect x="485" y="131" width="2" height="10"/><rect x="485" y="382" width="2" height="10"/><rect x="501" y="131" width="1" height="5"/><rect x="501" y="388" width="1" height="4"/><rect x="516" y="131" width="1" height="5"/><rect x="516" y="388" width="1" height="4"/><rect x="532" y="131" width="1" height="5"/><rect x="532" y="388" width="1" height="4"/><rect x="547" y="131" width="1" height="5"/><rect x="547" y="388" width="1" height="4"/><rect x="561" y="131" width="2" height="10"/><rect x="561" y="382" width="2" height="10"/><rect x="578" y="131" width="1" height="5"/><rect x="578" y="388" width="1" height="4"/><rect x="593" y="131" width="1" height="5"/><rect x="593" y="388" width="1" height="4"/><rect x="608" y="131" width="1" height="5"/><rect x="608" y="388" width="1" height="4"/><rect x="624" y="131" width="1" height="5"/><rect x="624" y="388" width="1" height="4"/><rect x="638" y="131" width="2" height="10"/><rect x="638" y="382" width="2" height="10"/><rect x="256" y="376" width="5" height="1"/><rect x="644" y="376" width="4" height="1"/><rect x="256" y="358" width="5" height="1"/><rect x="644" y="358" width="4" height="1"/><rect x="256" y="341" width="5" height="1"/><rect x="644" y="341" width="4" height="1"/><rect x="256" y="323" width="5" height="1"/><rect x="644" y="323" width="4" height="1"/><rect x="256" y="305" width="10" height="2"/><rect x="638" y="305" width="10" height="2"/><rect x="256" y="288" width="5" height="1"/><rect x="644" y="288" width="4" height="1"/><rect x="256" y="270" width="5" height="1"/><rect x="644" y="270" width="4" height="1"/><rect x="256" y="253" width="5" height="1"/><rect x="644" y="253" width="4" height="1"/><rect x="256" y="235" width="5" height="1"/><rect x="644" y="235" width="4" height="1"/><rect x="256" y="217" width="10" height="2"/><rect x="638" y="217" width="10" height="2"/><rect x="256" y="200" width="5" height="1"/><rect x="644" y="200" width="4" height="1"/><rect x="256" y="182" width="5" height="1"/><rect x="644" y="182" width="4" height="1"/><rect x="256" y="165" width="5" height="1"/><rect x="644" y="165" width="4" height="1"/><rect x="256" y="147" width="5" height="1"/><rect x="644" y="147" width="4" height="1"/></g>
<rect x="256" y="131" width="392" height="261" fill="none" stroke="#000" stroke-width="2"/>
<rect x="664" y="195" width="14" height="42" fill="#ffe0e0"/>
<rect x="664" y="237" width="14" height="18" fill="#ffb6b6"/>
<rect x="664" y="255" width="14" height="17" fill="#ff7a7a"/>
<rect x="664" y="272" width="14" height="17" fill="#ff1010"/>
<rect x="664" y="289" width="14" height="17" fill="#ff6600"/>
<rect x="664" y="306" width="14" height="5" fill="#ffa000"/>
<rect x="664" y="311" width="14" height="6" fill="#ffd000"/>
<rect x="664" y="317" width="14" height="6" fill="#ffff00"/>
<rect x="664" y="323" width="14" height="5" fill="#00f0ff"/>
<rect x="664" y="328" width="14" height="6" fill="#0030ff"/>
<rect x="664" y="334" width="14" height="6" fill="#0000b0"/>
<rect x="664" y="340" width="14" height="16" fill="#7000b0"/>
<rect x="664" y="356" width="14" height="17" fill="#b000a8"/>
<rect x="664" y="373" width="14" height="19" fill="#f000a8"/>
<rect x="664" y="237" width="14" height="1" fill="#000"/>
<rect x="664" y="255" width="14" height="1" fill="#000"/>
<rect x="664" y="272" width="14" height="1" fill="#000"/>
<rect x="664" y="289" width="14" height="1" fill="#000"/>
<rect x="664" y="306" width="14" height="1" fill="#000"/>
<rect x="664" y="311" width="14" height="1" fill="#000"/>
<rect x="664" y="317" width="14" height="1" fill="#000"/>
<rect x="664" y="323" width="14" height="1" fill="#000"/>
<rect x="664" y="328" width="14" height="1" fill="#000"/>
<rect x="664" y="334" width="14" height="1" fill="#000"/>
<rect x="664" y="340" width="14" height="1" fill="#000"/>
<rect x="664" y="356" width="14" height="1" fill="#000"/>
<rect x="664" y="373" width="14" height="1" fill="#000"/>
<rect x="664" y="196" width="14" height="195" fill="none" stroke="#000" stroke-width="2"/>
</svg>
<div class="t" style="left:336.00px;top:61.30px;font-size:28.00px;letter-spacing:0.75px;word-spacing:5.00px;-webkit-text-stroke:0.50px #fff;transform-origin:0 0;transform:scaleX(1.120);">vertical velocity</div>
<div class="t" style="left:164.00px;top:94.50px;font-size:16.00px;letter-spacing:1.00px;word-spacing:1.00px;-webkit-text-stroke:0.20px #000;transform-origin:0 0;transform:scaleX(1.150);">(<span style="display:inline-block;transform:scale(1.3);margin:0 0.8px">×</span>1E4 m)</div>
<div class="t" style="left:656.00px;top:129.80px;font-size:16.00px;letter-spacing:1.00px;word-spacing:1.70px;-webkit-text-stroke:0.15px #fff;transform-origin:0 0;transform:scaleX(1.120);">t=65400 s</div>
<div class="t" style="left:566.00px;top:423.20px;font-size:16.00px;letter-spacing:1.00px;word-spacing:1.00px;-webkit-text-stroke:0.20px #000;transform-origin:0 0;transform:scaleX(1.150);">(<span style="display:inline-block;transform:scale(1.3);margin:0 0.8px">×</span>1E5 m)</div>
<div class="t" style="left:370.80px;top:448.60px;font-size:24.00px;letter-spacing:0.42px;word-spacing:0.00px;-webkit-text-stroke:0.40px #fff;transform-origin:0 0;transform:scaleX(1.100);">X<span style="display:inline-block;position:relative;top:-1.2px;transform:scaleX(2.7);margin:0 3.4px">-</span>coordinate</div>
<div class="t" style="left:198.60px;top:339.00px;font-size:24.00px;letter-spacing:0.45px;word-spacing:0.00px;-webkit-text-stroke:0.40px #fff;transform-origin:0 0;transform:rotate(-90deg) scaleX(1.100);">Z<span style="display:inline-block;position:relative;top:-1.2px;transform:scaleX(2.7);margin:0 3.4px">-</span>coordinate</div>
<div class="t" style="left:327.00px;top:399.00px;font-size:18.00px;letter-spacing:0.00px;word-spacing:0.00px;-webkit-text-stroke:0.40px #000;">1</div>
<div class="t" style="left:404.00px;top:399.00px;font-size:18.00px;letter-spacing:0.00px;word-spacing:0.00px;-webkit-text-stroke:0.40px #000;">2</div>
<div class="t" style="left:481.00px;top:399.00px;font-size:18.00px;letter-spacing:0.00px;word-spacing:0.00px;-webkit-text-stroke:0.40px #000;">3</div>
<div class="t" style="left:557.00px;top:399.00px;font-size:18.00px;letter-spacing:0.00px;word-spacing:0.00px;-webkit-text-stroke:0.40px #000;">4</div>
<div class="t" style="left:634.00px;top:399.00px;font-size:18.00px;letter-spacing:0.00px;word-spacing:0.00px;-webkit-text-stroke:0.40px #000;">5</div>
<div class="t" style="left:235.00px;top:209.00px;font-size:18.00px;letter-spacing:0.00px;word-spacing:0.00px;-webkit-text-stroke:0.40px #000;">2</div>
<div class="t" style="left:235.00px;top:297.00px;font-size:18.00px;letter-spacing:0.00px;word-spacing:0.00px;-webkit-text-stroke:0.40px #000;">1</div>
<div class="t" style="left:687.00px;top:229.00px;font-size:18.00px;letter-spacing:0.00px;word-spacing:0.00px;-webkit-text-stroke:0.40px #000;">15</div>
<div class="t" style="left:687.00px;top:280.00px;font-size:18.00px;letter-spacing:0.00px;word-spacing:0.00px;-webkit-text-stroke:0.40px #000;">6</div>
<div class="t" style="left:687.00px;top:308.00px;font-size:18.00px;letter-spacing:0.00px;word-spacing:0.00px;-webkit-text-stroke:0.40px #000;">1</div>
<div class="t" style="left:687.00px;top:325.00px;font-size:18.00px;letter-spacing:0.00px;word-spacing:0.00px;-webkit-text-stroke:0.40px #000;"><span style="display:inline-block;transform:scaleX(2.7);margin:0 4.2px 0 3.4px">-</span>2</div>
<div class="t" style="left:687.00px;top:364.00px;font-size:18.00px;letter-spacing:0.00px;word-spacing:0.00px;-webkit-text-stroke:0.40px #000;"><span style="display:inline-block;transform:scaleX(2.7);margin:0 4.2px 0 3.4px">-</span>9</div>
</body></html>
